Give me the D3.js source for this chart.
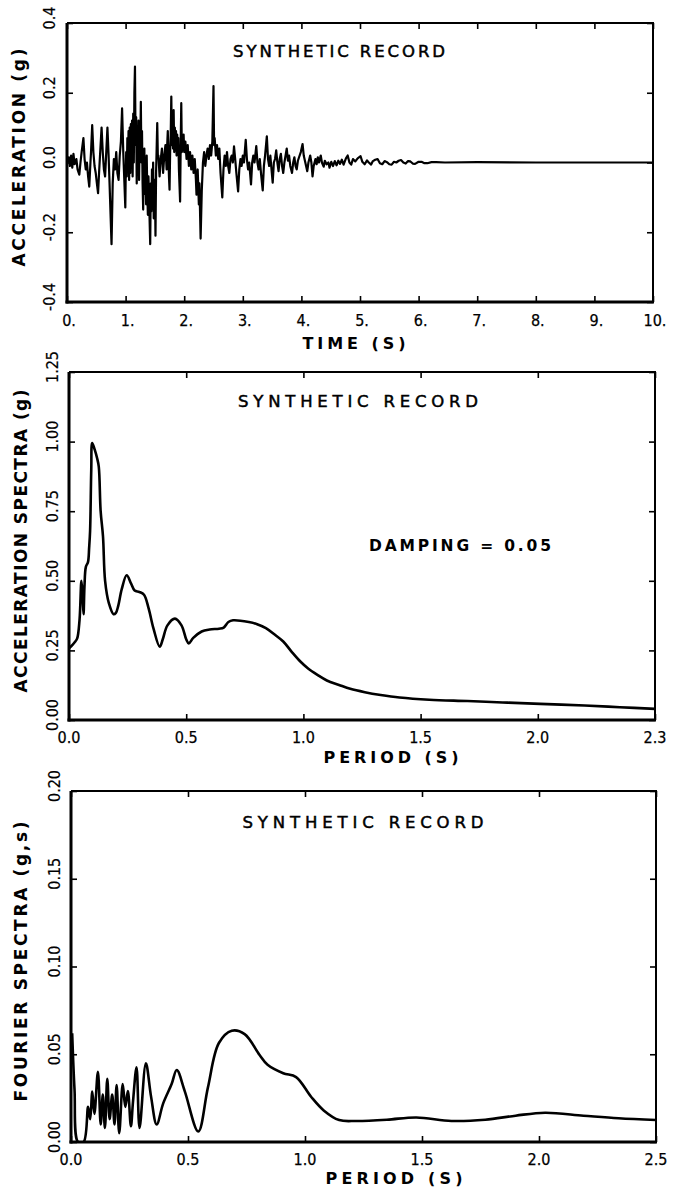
<!DOCTYPE html>
<html><head><meta charset="utf-8">
<script src="https://cdn.jsdelivr.net/npm/d3@7/dist/d3.min.js"></script>
<style>
html,body{margin:0;padding:0;background:#fff;}
svg{display:block;}
</style></head>
<body>
<svg id="chart" width="673" height="1190"></svg>
<script>
// ---------- DATA ----------
// Panel 1: synthetic acceleration record [time (s), acceleration (g)]
const accRecord = [[0.00,0],[0.03,0.015],[0.05,-0.01],[0.07,0.02],[0.09,-0.015],[0.11,0.025],[0.13,-0.005],[0.16,0.01],[0.18,-0.02],[0.21,-0.035],[0.23,0.0],[0.25,0.03],[0.28,0.07],[0.30,0.01],[0.32,-0.02],[0.34,0.0],[0.36,-0.04],[0.38,-0.069],[0.40,0.0],[0.41,0.03],[0.43,0.107],[0.45,0.03],[0.47,-0.01],[0.49,-0.03],[0.51,-0.06],[0.53,-0.088],[0.55,-0.02],[0.57,0.04],[0.59,0.10],[0.61,0.03],[0.63,-0.02],[0.65,-0.04],[0.67,0.03],[0.69,0.10],[0.71,0.02],[0.73,-0.08],[0.76,-0.234],[0.78,-0.06],[0.80,0.01],[0.82,-0.02],[0.84,0.03],[0.86,-0.03],[0.88,-0.05],[0.90,0.02],[0.92,0.06],[0.94,0.155],[0.96,0.03],[0.98,-0.06],[0.995,-0.129],
[1.00,-0.06],[1.01,0.03],[1.02,-0.04],[1.03,0.07],[1.04,-0.02],[1.05,0.09],[1.06,-0.05],[1.07,0.10],[1.08,-0.03],[1.09,0.11],[1.10,0.02],[1.11,0.12],[1.12,-0.04],[1.13,0.14],[1.14,0.0],[1.15,0.20],[1.16,0.275],[1.17,0.05],[1.18,0.13],[1.19,-0.06],[1.20,0.10],[1.21,-0.02],[1.22,0.12],[1.23,-0.05],[1.24,0.08],[1.25,0.02],[1.26,0.174],[1.27,0.0],[1.28,0.09],[1.29,-0.06],[1.30,-0.135],[1.31,0.02],[1.32,0.04],[1.33,-0.09],[1.34,-0.02],[1.35,-0.12],[1.36,0.02],[1.37,-0.08],[1.38,-0.15],[1.39,-0.04],[1.40,-0.10],[1.42,-0.234],[1.43,-0.06],[1.44,-0.14],[1.45,-0.02],[1.46,-0.09],[1.47,0.0],[1.48,-0.16],[1.50,-0.05],[1.51,-0.21],[1.52,-0.03],[1.53,0.04],[1.54,0.113],[1.55,0.02],
[1.56,0.02],[1.58,-0.04],[1.60,0.01],[1.62,0.04],[1.64,-0.03],[1.66,0.02],[1.68,0.05],[1.70,-0.02],[1.71,0.05],[1.72,0.09],[1.73,0.02],[1.74,-0.04],[1.75,-0.078],[1.76,0.03],[1.77,0.08],[1.78,0.189],[1.79,0.05],[1.80,0.09],[1.81,0.04],[1.82,0.15],[1.83,0.03],[1.84,0.10],[1.85,0.05],[1.86,0.09],[1.87,0.02],[1.88,0.08],[1.89,0.04],[1.90,0.07],[1.91,-0.02],[1.93,-0.112],[1.94,0.05],[1.95,0.17],[1.96,0.03],[1.97,0.07],[1.98,0.04],[1.99,0.08],[2.00,0.03],[2.02,0.06],[2.04,0.01],[2.06,0.05],[2.08,-0.01],[2.10,0.03],
[2.12,-0.02],[2.14,0.02],[2.16,-0.03],[2.18,0.01],[2.20,-0.05],[2.21,-0.092],[2.23,-0.02],[2.25,-0.12],[2.26,-0.06],[2.28,-0.218],[2.30,-0.08],[2.32,0.0],[2.34,0.03],[2.36,-0.01],[2.38,0.02],[2.40,0.04],[2.42,0.01],[2.44,0.05],[2.46,0.02],[2.48,0.06],[2.50,0.219],[2.51,0.05],[2.52,0.07],[2.54,0.02],[2.56,0.05],[2.58,0.01],[2.60,0.04],[2.62,-0.03],[2.65,-0.10],[2.67,-0.02],[2.69,0.02],[2.71,-0.01],[2.73,0.03],[2.75,-0.01],[2.77,-0.03],[2.79,0.01],[2.81,0.02],[2.83,0.0],[2.85,0.046],[2.87,0.01],[2.89,-0.03],[2.92,-0.083],[2.94,-0.02],[2.96,0.01],[2.98,-0.01],[3.00,0.02],[3.02,0.0],[3.05,0.065],[3.07,0.01],[3.09,-0.02],[3.11,0.0],[3.14,-0.063],[3.16,0.0],[3.18,0.02],[3.20,0.0],[3.23,0.047],[3.25,0.0],[3.27,-0.02],[3.29,0.01],[3.31,-0.03],[3.34,-0.08],[3.36,-0.01],[3.38,0.02],[3.41,0.075],[3.43,0.01],[3.45,-0.01],[3.47,0.02],[3.49,-0.02],[3.51,-0.058],[3.53,0.0],[3.55,0.01],[3.57,0.035],[3.59,0.0],[3.61,-0.025],[3.63,0.01],[3.65,0.025],[3.67,-0.01],[3.69,-0.03],[3.71,0.0],[3.73,0.02],[3.75,0.04],[3.77,0.005],[3.79,0.02],[3.81,-0.01],[3.84,-0.03],[3.86,0.0],[3.88,0.015],[3.90,-0.01],[3.92,-0.02],[3.94,0.005],[3.96,0.015],[3.99,0.03],[4.02,0.053],[4.04,0.02],[4.06,0.005],[4.08,-0.01],[4.10,-0.025],[4.12,0.0],[4.15,0.02],[4.17,0.0],[4.19,-0.04],[4.21,-0.01],[4.24,0.01],[4.26,-0.005],[4.28,0.015],[4.30,0.0],[4.33,0.02],[4.35,0.0],[4.38,-0.012],[4.40,0.005],[4.43,-0.005],[4.46,0.0],[4.48,-0.015],[4.51,0.002],[4.54,-0.01],[4.57,0.004],[4.60,-0.008],[4.63,0.005],[4.66,-0.004],[4.69,0.008],[4.72,-0.006],[4.76,0.012],[4.79,0.02],[4.82,0.0],[4.85,-0.006],[4.88,0.01],[4.92,0.003],[4.96,0.012],[5.01,0.018],[5.04,0.002],[5.08,-0.005],[5.12,0.006],[5.15,0.0],[5.19,-0.006],[5.22,0.004],[5.26,0.008],[5.30,0.01],[5.34,-0.002],[5.38,-0.005],[5.42,0.004],[5.46,0.001],[5.50,-0.005],[5.54,-0.006],[5.58,0.002],[5.62,0.0],[5.66,0.005],[5.70,0.007],[5.74,0.0],[5.78,-0.003],[5.82,0.004],[5.86,0.003],[5.90,-0.003],[5.94,-0.004],[6.00,0.002],[6.05,0.002],[6.10,-0.002],[6.15,-0.002],[6.22,0.001],[6.30,0.001],[6.45,0.0],[7.00,0.001],[8.00,0],[10.00,0]];
const timeTicks = [0,1,2,3,4,5,6,7,8,9,10];
const timeTickLabels = ["0.","1.","2.","3.","4.","5.","6.","7.","8.","9.","10."];
const accTicks = [0.4,0.2,0.0,-0.2,-0.4];
const accTickLabels = ["0.4","0.2","0.0","-0.2","-0.4"];

// Panel 2: acceleration response spectrum [period (s), Sa (g)]
const saSpectrum = [[0.0,0.257],[0.015,0.27],[0.025,0.28],[0.035,0.293],[0.045,0.36],[0.053,0.50],[0.058,0.45],[0.062,0.38],[0.066,0.48],[0.072,0.55],[0.081,0.567],[0.086,0.62],[0.09,0.68],[0.095,0.90],[0.099,0.995],[0.11,0.97],[0.12,0.94],[0.127,0.91],[0.135,0.75],[0.145,0.66],[0.154,0.50],[0.17,0.42],[0.19,0.38],[0.20,0.385],[0.21,0.41],[0.225,0.47],[0.246,0.52],[0.265,0.49],[0.28,0.465],[0.30,0.46],[0.32,0.45],[0.34,0.40],[0.36,0.33],[0.387,0.263],[0.40,0.29],[0.42,0.34],[0.452,0.364],[0.48,0.34],[0.50,0.29],[0.511,0.275],[0.53,0.295],[0.566,0.318],[0.60,0.325],[0.64,0.328],[0.66,0.332],[0.68,0.352],[0.70,0.358],[0.767,0.352],[0.80,0.345],[0.84,0.33],[0.88,0.305],[0.914,0.282],[0.95,0.245],[0.987,0.21],[1.02,0.185],[1.06,0.162],[1.10,0.142],[1.152,0.126],[1.20,0.112],[1.262,0.10],[1.33,0.09],[1.41,0.081],[1.537,0.073],[1.70,0.068],[1.85,0.063],[2.01,0.058],[2.2,0.052],[2.35,0.046],[2.5,0.04]];
const saPeriodTicks = [0,0.5,1.0,1.5,2.0,2.5];
const saPeriodTickLabels = ["0.0","0.5","1.0","1.5","2.0","2.3"];
const saTicks = [1.25,1.0,0.75,0.5,0.25,0.0];
const saTickLabels = ["1.25","1.00","0.75","0.50","0.25","0.00"];

// Panel 3: Fourier spectrum [period (s), amplitude (g.s)]
const fsSpectrum = [[0.005,0.062],[0.015,0.03],[0.03,0.0],[0.054,0.0],[0.073,0.020],[0.082,0.013],[0.091,0.0287],[0.10,0.016],[0.115,0.040],[0.127,0.010],[0.136,0.027],[0.145,0.008],[0.155,0.036],[0.165,0.013],[0.176,0.027],[0.186,0.010],[0.195,0.0325],[0.206,0.005],[0.221,0.033],[0.232,0.020],[0.243,0.029],[0.256,0.009],[0.265,0.023],[0.28,0.0426],[0.293,0.008],[0.32,0.0448],[0.342,0.026],[0.366,0.010],[0.394,0.022],[0.43,0.033],[0.452,0.041],[0.486,0.029],[0.544,0.006],[0.585,0.031],[0.632,0.0564],[0.687,0.0634],[0.742,0.0615],[0.806,0.0496],[0.84,0.044],[0.907,0.0392],[0.962,0.037],[1.026,0.0258],[1.08,0.018],[1.146,0.0125],[1.22,0.012],[1.35,0.0127],[1.476,0.014],[1.626,0.012],[1.77,0.0127],[1.9,0.015],[2.026,0.0167],[2.19,0.015],[2.34,0.0135],[2.5,0.0125]];
const fsPeriodTicks = [0,0.5,1.0,1.5,2.0,2.5];
const fsPeriodTickLabels = ["0.0","0.5","1.0","1.5","2.0","2.5"];
const fsTicks = [0.20,0.15,0.10,0.05,0.0];
const fsTickLabels = ["0.20","0.15","0.10","0.05","0.00"];

const titles = ["SYNTHETIC RECORD","SYNTHETIC RECORD","SYNTHETIC RECORD"];
const yTitles = ["ACCELERATION (g)","ACCELERATION SPECTRA (g)","FOURIER SPECTRA (g,s)"];
const xTitles = ["TIME (S)","PERIOD (S)","PERIOD (S)"];
const dampingNote = "DAMPING = 0.05";

// ---------- DRAW ----------
const svg = d3.select("#chart");
const tickFont = "'DejaVu Sans Condensed','DejaVu Sans',sans-serif";
const textFont = "'DejaVu Sans',sans-serif";

const panels = [
  {x0:67,x1:653,y0:23,y1:302, xd:[0,10], yd:[-0.4,0.4], data:accRecord,
   xt:timeTicks, xl:timeTickLabels, yt:accTicks, yl:accTickLabels, curve:d3.curveLinear, sw:2.2,
   titleX:339, titleY:57, titleW:212, xlabY:326, xtitX:354, xtitY:349, xtitW:103, ytitX:25, ytitLen:218, ylabX:55, xlabDx:2},
  {x0:69,x1:655,y0:372,y1:720, xd:[0,2.5], yd:[0,1.25], data:saSpectrum,
   xt:saPeriodTicks, xl:saPeriodTickLabels, yt:saTicks, yl:saTickLabels, curve:d3.curveCatmullRom.alpha(0.5), sw:2.6,
   titleX:358, titleY:407, titleW:240, xlabY:743, xtitX:391, xtitY:763, xtitW:135, ytitX:27, ytitLen:303, ylabX:58, xlabDx:0},
  {x0:71,x1:656,y0:791,y1:1142, xd:[0,2.5], yd:[0,0.2], data:fsSpectrum,
   xt:fsPeriodTicks, xl:fsPeriodTickLabels, yt:fsTicks, yl:fsTickLabels, curve:d3.curveCatmullRom.alpha(0.5), sw:2.6,
   titleX:363, titleY:828, titleW:241, xlabY:1165, xtitX:394, xtitY:1184, xtitW:137, ytitX:27, ytitLen:280, ylabX:60, xlabDx:0}
];

panels.forEach((p, i) => {
  const x = d3.scaleLinear().domain(p.xd).range([p.x0, p.x1]);
  const y = d3.scaleLinear().domain(p.yd).range([p.y1, p.y0]);
  const g = svg.append("g");

  // curve
  const clipId = "clip" + i;
  svg.append("clipPath").attr("id", clipId).append("rect")
    .attr("x", p.x0).attr("y", p.y0 - 2).attr("width", p.x1 - p.x0).attr("height", p.y1 - p.y0 + 2);
  g.append("path").datum(p.data)
    .attr("clip-path", `url(#${clipId})`)
    .attr("fill", "none").attr("stroke", "#000").attr("stroke-width", p.sw)
    .attr("stroke-linejoin", "round")
    .attr("d", d3.line().x(d => x(d[0])).y(d => y(d[1])).curve(p.curve));

  // inward ticks on all four sides
  [{a: d3.axisBottom(x), t: `translate(0,${p.y1})`}, {a: d3.axisTop(x), t: `translate(0,${p.y0})`}].forEach(o => {
    const gg = g.append("g").attr("transform", o.t)
      .call(o.a.tickValues(p.xt).tickSize(-6).tickFormat(""));
    gg.select(".domain").remove();
    gg.selectAll(".tick line").attr("stroke", "#000").attr("stroke-width", 1.6);
  });
  [{a: d3.axisLeft(y), t: `translate(${p.x0},0)`}, {a: d3.axisRight(y), t: `translate(${p.x1},0)`}].forEach(o => {
    const gg = g.append("g").attr("transform", o.t)
      .call(o.a.tickValues(p.yt).tickSize(-6).tickFormat(""));
    gg.select(".domain").remove();
    gg.selectAll(".tick line").attr("stroke", "#000").attr("stroke-width", 1.6);
  });

  // frame
  g.append("line").attr("x1", p.x0).attr("x2", p.x0).attr("y1", p.y0).attr("y2", p.y1 + 1.5).attr("stroke", "#000").attr("stroke-width", 3);
  g.append("line").attr("x1", p.x0 - 1.5).attr("x2", p.x1 + 1).attr("y1", p.y1).attr("y2", p.y1).attr("stroke", "#000").attr("stroke-width", 3);
  g.append("line").attr("x1", p.x0).attr("x2", p.x1 + 1).attr("y1", p.y0).attr("y2", p.y0).attr("stroke", "#000").attr("stroke-width", 2);
  g.append("line").attr("x1", p.x1).attr("x2", p.x1).attr("y1", p.y0).attr("y2", p.y1).attr("stroke", "#000").attr("stroke-width", 2);

  // x tick labels
  g.selectAll(".xl").data(p.xt).enter().append("text")
    .attr("x", d => x(d) + p.xlabDx).attr("y", p.xlabY)
    .attr("text-anchor", "middle").attr("font-family", tickFont).attr("font-size", 16)
    .attr("stroke", "#000").attr("stroke-width", 0.25)
    .text((d, k) => p.xl[k]);

  // y tick labels (rotated)
  g.selectAll(".yl").data(p.yt).enter().append("text")
    .attr("transform", d => `translate(${p.ylabX},${y(d) - 5}) rotate(-90)`)
    .attr("text-anchor", "middle").attr("font-family", tickFont).attr("font-size", 16)
    .attr("stroke", "#000").attr("stroke-width", 0.2)
    .text((d, k) => p.yl[k]);

  // panel title
  g.append("text").attr("x", p.titleX).attr("y", p.titleY)
    .attr("text-anchor", "middle").attr("font-family", textFont).attr("font-size", 16.5)
    .attr("stroke", "#000").attr("stroke-width", 0.5)
    .attr("textLength", p.titleW).attr("lengthAdjust", "spacing")
    .text(titles[i]);

  // x axis title
  g.append("text").attr("x", p.xtitX).attr("y", p.xtitY)
    .attr("text-anchor", "middle").attr("font-family", textFont).attr("font-size", 16)
    .attr("font-weight", "bold")
    .attr("textLength", p.xtitW).attr("lengthAdjust", "spacing")
    .text(xTitles[i]);

  // y axis title
  g.append("text")
    .attr("transform", `translate(${p.ytitX},${(p.y0 + p.y1) / 2 - 5}) rotate(-90)`)
    .attr("text-anchor", "middle").attr("font-family", textFont).attr("font-size", 17)
    .attr("font-weight", "bold")
    .attr("textLength", p.ytitLen).attr("lengthAdjust", "spacing")
    .text(yTitles[i]);

  if (i === 1) {
    g.append("text").attr("x", 460).attr("y", 551)
      .attr("text-anchor", "middle").attr("font-family", textFont).attr("font-size", 15.5)
      .attr("font-weight", "bold").attr("textLength", 182).attr("lengthAdjust", "spacing")
      .text(dampingNote);
  }
});
</script>
</body></html>
